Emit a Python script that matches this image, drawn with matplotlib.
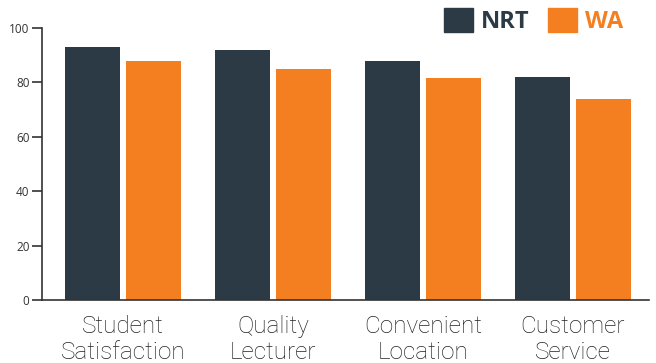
import matplotlib
matplotlib.use("Agg")
import matplotlib.pyplot as plt
import numpy as np
from matplotlib.patches import Patch

categories = ["Student\nSatisfaction", "Quality\nLecturer", "Convenient\nLocation", "Customer\nService"]
series_names = ["NRT", "WA"]
nrt_values = [93, 92, 88, 82]
wa_values = [88, 85, 81.5, 74]
y_ticks = [0, 20, 40, 60, 80, 100]

c_nrt = "#2B3A45"
c_wa = "#F47F20"
axis_c = "#333333"

fig = plt.figure(figsize=(6.56, 3.63), dpi=100)
ax = fig.add_axes([0.064, 0.1736, 0.925, 0.7493])

x = np.arange(len(categories))
w = 0.367
off = 0.203
ax.bar(x - off, nrt_values, width=w, color=c_nrt, label=series_names[0])
ax.bar(x + off, wa_values, width=w, color=c_wa, label=series_names[1])

ax.set_xlim(-0.54, 3.507)
ax.set_ylim(0, 100)
ax.set_yticks(y_ticks)
ax.set_yticklabels([str(v) for v in y_ticks], fontsize=8.5, color=axis_c, family="Open Sans")
ax.tick_params(axis="y", length=7, width=1.2, color=axis_c, pad=2)
ax.set_xticks(x)
ax.set_xticklabels(categories, fontsize=17.5, color="#222222", family="Roboto", fontweight="light", linespacing=1.15)
ax.tick_params(axis="x", length=0, pad=11)
for s in ["top", "right"]:
    ax.spines[s].set_visible(False)
for s in ["left", "bottom"]:
    ax.spines[s].set_color(axis_c)
    ax.spines[s].set_linewidth(1.2)

handles = [Patch(color=c_nrt), Patch(color=c_wa)]
leg = fig.legend(handles, series_names, loc="upper right", bbox_to_anchor=(0.95, 0.978),
                 ncol=2, frameon=False, handlelength=1.2, handleheight=1.2,
                 handletextpad=0.35, columnspacing=0.8, borderpad=0, borderaxespad=0,
                 prop={"family": "Open Sans", "weight": "bold", "size": 17})
for t, c in zip(leg.get_texts(), [c_nrt, c_wa]):
    t.set_color(c)

fig.savefig("out.png", dpi=100)
